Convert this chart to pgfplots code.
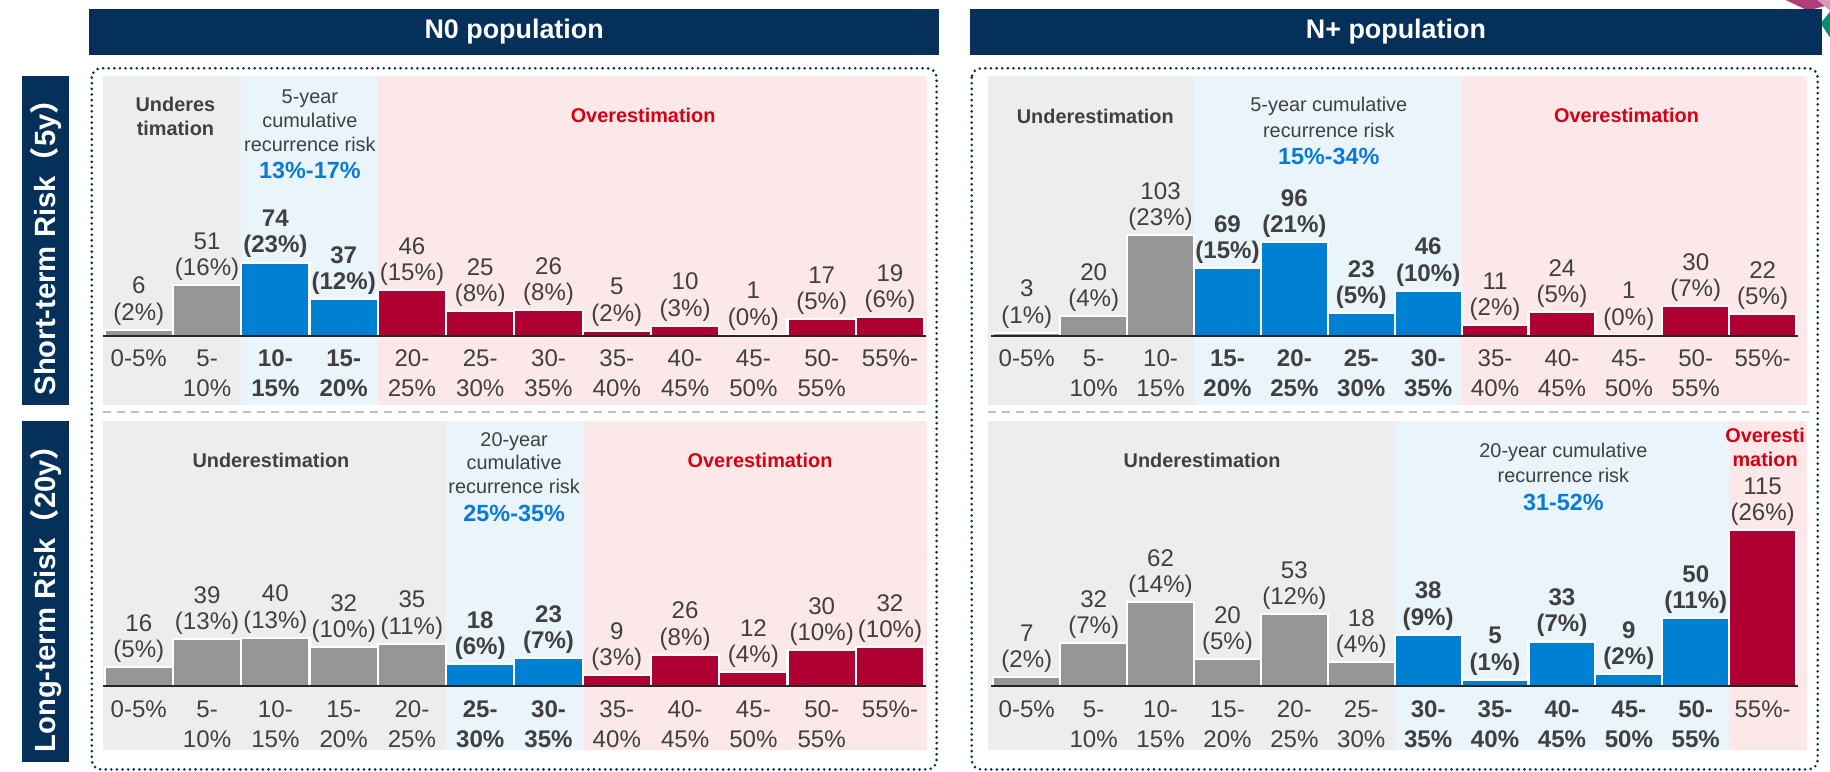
\documentclass[border=0pt]{standalone}
\usepackage{fontspec}
\setmainfont{Liberation Sans}
\newfontfamily\cjk{Noto Sans CJK SC}
\usepackage{pgfplots}
\pgfplotsset{compat=1.18}
\usepackage{pgfplotstable}

\definecolor{navy}{RGB}{4,48,90}
\definecolor{bgray}{RGB}{150,150,150}
\definecolor{bblue}{RGB}{0,128,210}
\definecolor{bred}{RGB}{174,0,51}
\definecolor{rgray}{RGB}{237,237,237}
\definecolor{rblue}{RGB}{234,244,251}
\definecolor{rpink}{RGB}{252,232,233}
\definecolor{tgray}{RGB}{64,64,64}
\definecolor{tred}{RGB}{214,0,18}
\definecolor{tblue}{RGB}{10,122,215}
\definecolor{sepgray}{RGB}{190,190,190}
\definecolor{decop}{RGB}{176,60,120}
\definecolor{decol}{RGB}{220,150,190}
\definecolor{decot}{RGB}{0,140,120}

% N0 short-term
\pgfplotstableread{
x y p
0 6 2
1 51 16
}\nzsG
\pgfplotstableread{
x y p
2 74 23
3 37 12
}\nzsB
\pgfplotstableread{
x y p
4 46 15
5 25 8
6 26 8
7 5 2
8 10 3
9 1 0
10 17 5
11 19 6
}\nzsR
% N+ short-term
\pgfplotstableread{
x y p
0 3 1
1 20 4
2 103 23
}\npsG
\pgfplotstableread{
x y p
3 69 15
4 96 21
5 23 5
6 46 10
}\npsB
\pgfplotstableread{
x y p
7 11 2
8 24 5
9 1 0
10 30 7
11 22 5
}\npsR
% N0 long-term
\pgfplotstableread{
x y p
0 16 5
1 39 13
2 40 13
3 32 10
4 35 11
}\nzlG
\pgfplotstableread{
x y p
5 18 6
6 23 7
}\nzlB
\pgfplotstableread{
x y p
7 9 3
8 26 8
9 12 4
10 30 10
11 32 10
}\nzlR
% N+ long-term
\pgfplotstableread{
x y p
0 7 2
1 32 7
2 62 14
3 20 5
4 53 12
5 18 4
}\nplG
\pgfplotstableread{
x y p
6 38 9
7 5 1
8 33 7
9 9 2
10 50 11
}\nplB
\pgfplotstableread{
x y p
11 115 26
}\nplR

\newcommand{\tl}[2]{#1-\\#2\%}
\newcommand{\tlb}[2]{\textbf{#1-}\\\textbf{#2\%}}
\newcommand{\lblfont}{\fontsize{10.3}{11.2}\selectfont}

\pgfplotsset{
  panel/.style={
    scale only axis, anchor=south west, clip=false,
    xmin=-0.5, xmax=11.5, ymin=0,
    axis line style={draw=none}, ytick=\empty, xtick={0,...,11},
    major tick length=0pt, tick style={draw=none},
    /pgf/number format/assume math mode=true,
    /pgf/number format/fixed, /pgf/number format/precision=0,
    xticklabel style={align=center, font=\fontsize{10.3}{12.75}\selectfont,
      text=tgray, inner sep=0pt, yshift=-6pt, anchor=north},
    point meta=y,
    nodes near coords={\pgfmathprintnumber{\pgfplotspointmeta}\\(\pgfmathprintnumber{\pct}\%)},
    visualization depends on={\thisrow{p} \as \pct},
    every node near coord/.append style={align=center, font=\lblfont,
      text=tgray, inner sep=1.5pt, anchor=south, draw=none, fill=none,
      /pgf/number format/assume math mode=true},
  },
  bars/.style={ybar, bar width=1, bar shift=0pt, draw=white, line width=0.9pt},
  boldlbl/.style={every node near coord/.append style={font=\lblfont\bfseries}},
}

\begin{document}
\begin{tikzpicture}
\useasboundingbox (0,0) rectangle (782.5pt,330pt);
\begin{scope}[x=0.5pt,y=-0.5pt,yshift=330pt]
  % decoration top right
  \fill[decop] (1527,0) -- (1565,0) -- (1565,4) -- (1546,9) -- cycle;
  \fill[decol] (1554,0) -- (1565,0) -- (1565,9) -- cycle;
  \fill[decot] (1557,20) -- (1565,10) -- (1565,32) -- cycle;
  % headers
  \fill[navy] (76,7.7) rectangle (803.4,47);
  \fill[navy] (829.6,7.7) rectangle (1558,47);
  \node[text=white, font=\fontsize{11.5}{13}\selectfont\bfseries] at (439.7,27.3) {N0 population};
  \node[text=white, font=\fontsize{11.5}{13}\selectfont\bfseries] at (1193.8,27.3) {N+ population};
  % side labels
  \fill[navy] (19,65) rectangle (59,346);
  \fill[navy] (19,360) rectangle (59,652);
  \node[rotate=90, text=white, font=\fontsize{12.5}{14}\selectfont\bfseries] at (39,205.5) {Short-term Risk{\cjk （}5y{\cjk ）}};
  \node[rotate=90, text=white, font=\fontsize{12.5}{14}\selectfont\bfseries] at (39,506) {Long-term Risk{\cjk （}20y{\cjk ）}};
  % backgrounds N0 short
  \fill[rgray] (88,65) rectangle (206.3,346);
  \fill[rblue] (206.3,65) rectangle (323.1,346);
  \fill[rpink] (323.1,65) rectangle (793,346);
  % N0 long
  \fill[rgray] (88,360) rectangle (381.5,641);
  \fill[rblue] (381.5,360) rectangle (498.3,641);
  \fill[rpink] (498.3,360) rectangle (793,641);
  % N+ short
  \fill[rgray] (845,65) rectangle (1021.1,346);
  \fill[rblue] (1021.1,65) rectangle (1250,346);
  \fill[rpink] (1250,65) rectangle (1545,346);
  % N+ long
  \fill[rgray] (845,360) rectangle (1192.7,641);
  \fill[rblue] (1192.7,360) rectangle (1478.7,641);
  \fill[rpink] (1478.7,360) rectangle (1545,641);
  % separators
  \draw[sepgray, line width=1pt, dash pattern=on 3.5pt off 2.5pt] (88,352.5) -- (795,352.5);
  \draw[sepgray, line width=1pt, dash pattern=on 3.5pt off 2.5pt] (845,352.5) -- (1547,352.5);
  % dotted borders
  \draw[navy, line width=1.25pt, line cap=round, dash pattern=on 0pt off 2.4pt, rounded corners=4pt] (78.5,58.4) rectangle (801,658);
  \draw[navy, line width=1.25pt, line cap=round, dash pattern=on 0pt off 2.4pt, rounded corners=4pt] (831,58.4) rectangle (1554.5,658);
  % region titles
  \tikzset{tt/.style={text=tgray, align=center, font=\fontsize{8.5}{10.4}\selectfont\bfseries},
           tr/.style={text=tgray, align=center, font=\fontsize{8.5}{10.2}\selectfont},
           to/.style={text=tred, align=center, font=\fontsize{8.5}{10.4}\selectfont\bfseries},
           rng/.style={text=tblue, font=\fontsize{10}{12}\selectfont\bfseries}}
  \node[tt] at (150,99.5) {Underes\\timation};
  \node[tr] at (265,103) {5-year\\cumulative\\recurrence risk};
  \node[rng] at (265,146) {13\%-17\%};
  \node[to] at (550,99) {Overestimation};
  \node[tt] at (936.7,99.8) {Underestimation};
  \node[tr, font=\fontsize{8.5}{11}\selectfont] at (1136.4,100.2) {5-year cumulative\\recurrence risk};
  \node[rng] at (1136.4,134) {15\%-34\%};
  \node[to] at (1391,99) {Overestimation};
  \node[tt] at (231.7,393.4) {Underestimation};
  \node[tr] at (439.7,396) {20-year\\cumulative\\recurrence risk};
  \node[rng] at (439.7,439) {25\%-35\%};
  \node[to] at (650,393.4) {Overestimation};
  \node[tt] at (1028,393.4) {Underestimation};
  \node[tr, font=\fontsize{8.5}{10.6}\selectfont] at (1337,396.2) {20-year cumulative\\recurrence risk};
  \node[rng] at (1337,430) {31-52\%};
  \node[to] at (1509.5,382.5) {Overesti\\mation};
\end{scope}

% N0 short-term
\begin{axis}[panel, at={(44.75pt,186.5pt)}, width=350.4pt, height=111pt, ymax=263,
  xticklabels={0-5\%,{\tl{5}{10}},{\tlb{10}{15}},{\tlb{15}{20}},{\tl{20}{25}},{\tl{25}{30}},{\tl{30}{35}},{\tl{35}{40}},{\tl{40}{45}},{\tl{45}{50}},{\tl{50}{55}},55\%-}]
  \addplot[bars, fill=bgray] table {\nzsG};
  \addplot[bars, fill=bblue, boldlbl] table {\nzsB};
  \addplot[bars, fill=bred] table {\nzsR};
  \draw[black!85, line width=0.8pt] (axis cs:-0.53,0) -- (axis cs:11.53,0);
\end{axis}

% N0 long-term
\begin{axis}[panel, at={(44.75pt,36.5pt)}, width=350.4pt, height=113.5pt, ymax=217.6,
  xticklabels={0-5\%,{\tl{5}{10}},{\tl{10}{15}},{\tl{15}{20}},{\tl{20}{25}},{\tlb{25}{30}},{\tlb{30}{35}},{\tl{35}{40}},{\tl{40}{45}},{\tl{45}{50}},{\tl{50}{55}},55\%-}]
  \addplot[bars, fill=bgray] table {\nzlG};
  \addplot[bars, fill=bblue, boldlbl] table {\nzlB};
  \addplot[bars, fill=bred] table {\nzlR};
  \draw[black!85, line width=0.8pt] (axis cs:-0.53,0) -- (axis cs:11.53,0);
\end{axis}

% N+ short-term
\begin{axis}[panel, at={(424.75pt,186.5pt)}, width=343.25pt, height=111pt, ymax=266,
  xticklabels={0-5\%,{\tl{5}{10}},{\tl{10}{15}},{\tlb{15}{20}},{\tlb{20}{25}},{\tlb{25}{30}},{\tlb{30}{35}},{\tl{35}{40}},{\tl{40}{45}},{\tl{45}{50}},{\tl{50}{55}},55\%-}]
  \addplot[bars, fill=bgray] table {\npsG};
  \addplot[bars, fill=bblue, boldlbl] table {\npsB};
  \addplot[bars, fill=bred] table {\npsR};
  \draw[black!85, line width=0.8pt] (axis cs:-0.53,0) -- (axis cs:11.53,0);
\end{axis}

% N+ long-term
\begin{axis}[panel, at={(424.75pt,36.5pt)}, width=343.25pt, height=113.5pt, ymax=195,
  xticklabels={0-5\%,{\tl{5}{10}},{\tl{10}{15}},{\tl{15}{20}},{\tl{20}{25}},{\tl{25}{30}},{\tlb{30}{35}},{\tlb{35}{40}},{\tlb{40}{45}},{\tlb{45}{50}},{\tlb{50}{55}},55\%-}]
  \addplot[bars, fill=bgray] table {\nplG};
  \addplot[bars, fill=bblue, boldlbl] table {\nplB};
  \addplot[bars, fill=bred] table {\nplR};
  \draw[black!85, line width=0.8pt] (axis cs:-0.53,0) -- (axis cs:11.53,0);
\end{axis}
\end{tikzpicture}
\end{document}
